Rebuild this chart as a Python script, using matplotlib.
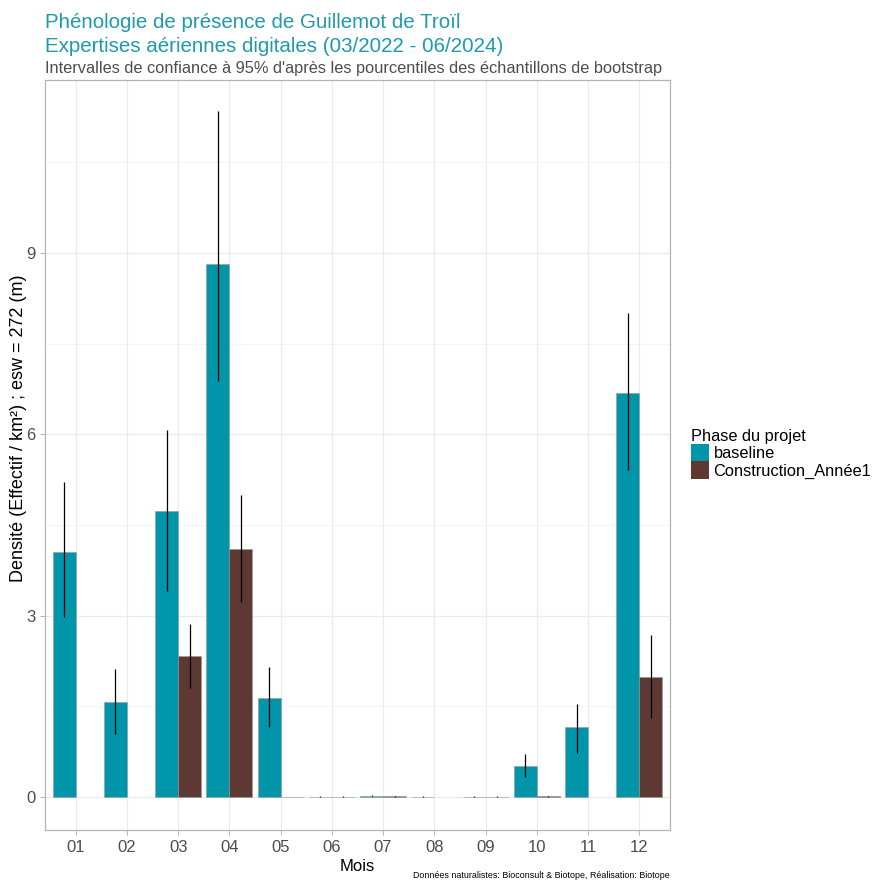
import matplotlib.pyplot as plt
import numpy as np
from matplotlib.patches import Patch

plt.rcParams['font.family'] = ['Liberation Sans', 'DejaVu Sans']

# data (NaN = no bar)
mois = ["01", "02", "03", "04", "05", "06", "07", "08", "09", "10", "11", "12"]

base_val = [4.05, 1.57, 4.73, 8.82, 1.64, 0.005, 0.02, 0.005, 0.005, 0.51, 1.16, 6.68]
base_low = [2.98, 1.04, 3.41, 6.88, 1.16, 0.0, 0.01, 0.0, 0.0, 0.33, 0.73, 5.41]
base_high = [5.21, 2.12, 6.07, 11.35, 2.15, 0.01, 0.03, 0.01, 0.01, 0.71, 1.54, 8.01]

cons_val = [np.nan, np.nan, 2.33, 4.10, 0.0, 0.005, 0.01, np.nan, 0.005, 0.01, np.nan, 1.99]
cons_low = [np.nan, np.nan, 1.80, 3.23, 0.0, 0.0, 0.0, np.nan, 0.0, 0.0, np.nan, 1.31]
cons_high = [np.nan, np.nan, 2.86, 5.00, 0.0, 0.01, 0.02, np.nan, 0.01, 0.02, np.nan, 2.68]

c_base = '#0095A8'
c_cons = '#5E3832'

fig = plt.figure(figsize=(8.75, 8.81), dpi=100)
ax = fig.add_axes([45/875, 1-830/881, 625/875, 750/881])

x = np.arange(1, 13)
w = 0.45

ax.bar(x - w/2, base_val, width=w, color=c_base, edgecolor='#9a9a9a', linewidth=0.4, zorder=2)
ax.bar(x + w/2, cons_val, width=w, color=c_cons, edgecolor='#9a9a9a', linewidth=0.4, zorder=2)
ax.vlines(x - w/2, base_low, base_high, color='black', linewidth=0.9, zorder=3)
ax.vlines(x + w/2, cons_low, cons_high, color='black', linewidth=0.9, zorder=3)

ax.set_xlim(0.4, 12.6)
ax.set_ylim(-0.546, 11.86)
ax.set_xticks(x)
ax.set_xticklabels(mois)
ax.set_yticks([0, 3, 6, 9])
ax.set_yticks([1.5, 4.5, 7.5, 10.5], minor=True)
ax.grid(which='major', color='#EBEBEB', linewidth=0.9, zorder=0)
ax.grid(which='minor', axis='y', color='#F2F2F2', linewidth=0.5, zorder=0)
ax.set_axisbelow(True)
ax.tick_params(axis='both', which='major', colors='#B3B3B3', labelcolor='#4D4D4D',
               labelsize=12, length=3.5, width=0.7)
ax.tick_params(axis='y', which='minor', length=0)
for s in ax.spines.values():
    s.set_color('#B3B3B3')
    s.set_linewidth(0.9)

ax.set_xlabel('Mois', fontsize=12, labelpad=3)
ax.set_ylabel('Densité (Effectif / km²) ; esw = 272 (m)', fontsize=13)
ax.yaxis.set_label_coords(-18/625, 0.535)

fig.text(45/875, 1-28/881, 'Phénologie de présence de Guillemot de Troïl', color='#1D9BAA',
         fontsize=14.8, va='baseline', ha='left')
fig.text(45/875, 1-52/881, 'Expertises aériennes digitales (03/2022 - 06/2024)', color='#1D9BAA',
         fontsize=14.8, va='baseline', ha='left')
fig.text(45/875, 1-73/881, "Intervalles de confiance à 95% d'après les pourcentiles des échantillons de bootstrap",
         color='#4D4D4D', fontsize=11.8, va='baseline', ha='left')
fig.text(670/875, 3/881, 'Données naturalistes: Bioconsult & Biotope, Réalisation: Biotope',
         color='black', fontsize=6.4, va='baseline', ha='right')

handles = [Patch(facecolor=c_base, edgecolor='none'), Patch(facecolor=c_cons, edgecolor='none')]
leg = fig.legend(handles, ['baseline', 'Construction_Année1'], title='Phase du projet',
                 loc='upper left', bbox_to_anchor=(684/875, 1-422/881), frameon=False,
                 fontsize=11.8, title_fontsize=11.8, handlelength=1.1, handleheight=1.3,
                 handletextpad=0.3, labelspacing=0.0, borderaxespad=0)
leg._legend_box.align = 'left'

fig.savefig('out.png', dpi=100)
